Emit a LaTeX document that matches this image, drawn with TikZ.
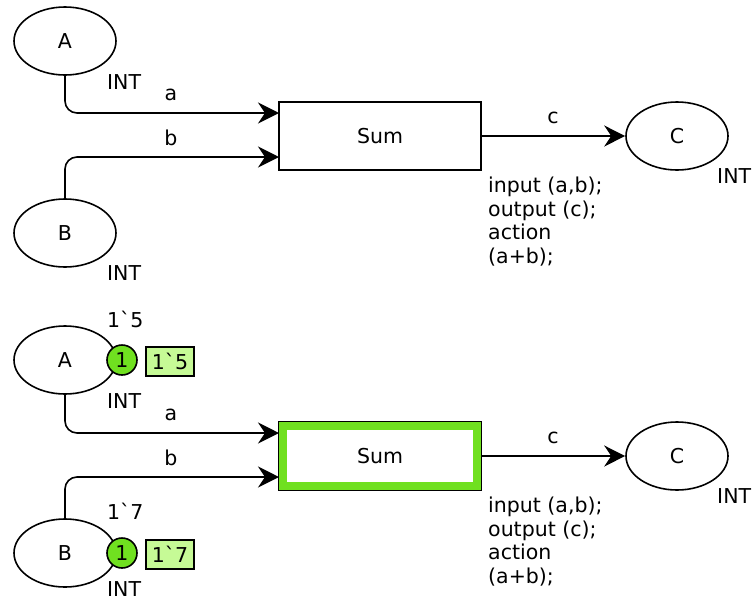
\documentclass[tikz,border=0pt]{standalone}
\usepackage{fontspec}
\setmainfont{DejaVu Sans}[Ligatures=TeXOff]
\usetikzlibrary{shapes.geometric,arrows.meta}
\definecolor{tokgreen}{RGB}{112,224,32}
\definecolor{boxgreen}{RGB}{198,250,150}
\newcommand{\tf}{\fontsize{20.5}{23.5}\selectfont}
\tikzset{
  place/.style={draw, ellipse, line width=1.6pt, minimum width=102pt, minimum height=68pt, inner sep=0pt, font=\tf},
  trans/.style={draw, line width=1.6pt, minimum width=202pt, minimum height=68pt, inner sep=0pt, fill=white, font=\tf},
  lbl/.style={anchor=base west, inner sep=0pt, font=\tf},
  clbl/.style={anchor=base, inner sep=0pt, font=\tf},
  arc/.style={line width=1.6pt, rounded corners=12pt, -{Stealth[length=21pt,width=21pt,inset=7pt]}},
  tok/.style={circle, draw, fill=tokgreen, line width=1.6pt, minimum size=30pt, inner sep=0pt, font=\tf},
  tokbox/.style={draw, fill=boxgreen, line width=1.6pt, minimum width=48pt, minimum height=29pt, inner sep=0pt, font=\tf},
  code/.style={anchor=north west, inner sep=0pt, align=left, font=\tf}
}
\begin{document}
\begin{tikzpicture}[x=1pt,y=-1pt]
\useasboundingbox (0,0) rectangle (755,600);
% ---------- top net ----------
\node[place] (A1) at (65,41) {A};
\node[place] (B1) at (65,233) {B};
\node[trans] (S1) at (380,136) {Sum};
\node[place] (C1) at (677,136) {C};
\coordinate (a1) at (279,113);
\coordinate (b1) at (279,157);
\draw[arc] (A1.south) |- (a1);
\draw[arc] (B1.north) |- (b1);
\draw[arc] (S1.east) -- (C1.west);
\node[lbl] (ia1) at (107,89) {INT};
\node[lbl] (ib1) at (107,280) {INT};
\node[lbl] (ic1) at (717,183) {INT};
\node[clbl] (la1) at (171,100) {a};
\node[clbl] (lb1) at (171,145) {b};
\node[clbl] (lc1) at (553,123) {c};
\node[code] (code1) at (488,177) {input (a,b);\\output (c);\\action\\(a+b);};
% ---------- bottom net ----------
\node[place] (A2) at (65,360) {A};
\node[place] (B2) at (65,553) {B};
\node[trans] (S2) at (380,456) {Sum};
\draw[tokgreen, line width=7.5pt] ([xshift=4.6pt,yshift=-4.6pt]S2.north west) rectangle ([xshift=-4.6pt,yshift=4.6pt]S2.south east);
\node[place] (C2) at (677,456) {C};
\coordinate (a2) at (279,433);
\coordinate (b2) at (279,477);
\draw[arc] (A2.south) |- (a2);
\draw[arc] (B2.north) |- (b2);
\draw[arc] (S2.east) -- (C2.west);
\node[tok] (t1) at (122,360) {1};
\node[tokbox] (tb1) at (170,361.5) {1`5};
\node[tok] (t2) at (122,553) {1};
\node[tokbox] (tb2) at (170,554.5) {1`7};
\node[lbl] (m1) at (107,327) {1`5};
\node[lbl] (m2) at (107,519) {1`7};
\node[lbl] (ia2) at (107,408) {INT};
\node[lbl] (ib2) at (107,596) {INT};
\node[lbl] (ic2) at (717,503) {INT};
\node[clbl] (la2) at (171,420) {a};
\node[clbl] (lb2) at (171,465) {b};
\node[clbl] (lc2) at (553,443) {c};
\node[code] (code2) at (488,497) {input (a,b);\\output (c);\\action\\(a+b);};
\end{tikzpicture}
\end{document}
